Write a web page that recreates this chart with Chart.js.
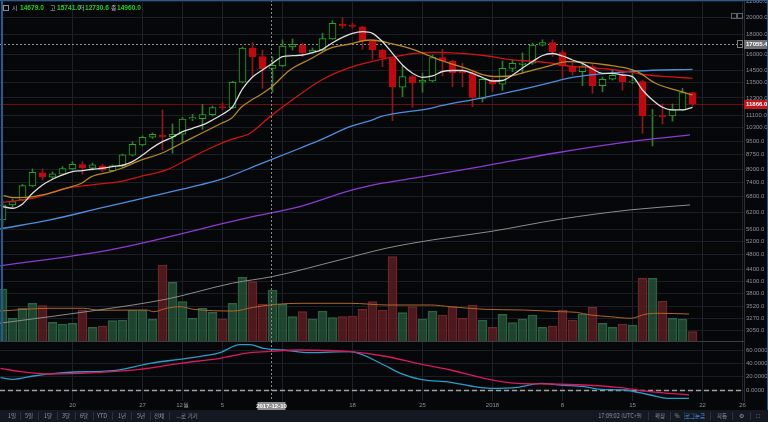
<!DOCTYPE html>
<html lang="ko">
<head>
<meta charset="utf-8">
<title>BTC 일봉</title>
<script src="https://cdn.jsdelivr.net/npm/chart.js@4.4.1/dist/chart.umd.min.js"></script>
<style>
  html, body { margin: 0; padding: 0; }
  body { width: 768px; height: 422px; background: #060709; position: relative; overflow: hidden;
         font-family: "Liberation Sans", "Noto Sans CJK KR", sans-serif; }
  canvas { position: absolute; left: 0; }
  #price { top: 0; }
  #osc { top: 341px; }
  .frame { position: absolute; background: #1f5d92; }
  #legend span { position: absolute; top: 3px; line-height: 10px; font-size: 6.6px; white-space: nowrap; }
  #legend .k { color: #b4b8c0; font-family: "Noto Sans CJK KR"; font-size: 6px; }
  #legend .v { color: #1bd41b; font-weight: bold; }
  #legend .ico { left: 3px; top: 5px; width: 4px; height: 4px; border: 1px solid #8a8f99; }
  .tiny { position: absolute; width: 4px; height: 4px; border: 1px solid #5d626c; }
  #bar { position: absolute; left: 0; top: 410px; width: 768px; height: 12px; background: #141821; }
  #bar span { position: absolute; top: 0; line-height: 12px; font-size: 5.5px; color: #8e97a8;
              transform: translateX(-50%); white-space: nowrap; font-family: "Noto Sans CJK KR"; }
  #bar span.on { color: #4c9be0; }
  #bar i { position: absolute; top: 2px; width: 1px; height: 8px; background: #2b313d; }
</style>
</head>
<body>
<canvas id="price" width="768" height="341"></canvas>
<canvas id="osc" width="768" height="69"></canvas>

<div class="frame" style="left:0;top:0;width:768px;height:1px"></div>
<div class="frame" style="left:1px;top:0;width:2px;height:341px"></div>
<div class="frame" style="left:767px;top:0;width:1px;height:410px"></div>
<div class="tiny" style="left:731px;top:13px"></div>
<div class="tiny" style="left:737px;top:13px"></div>

<div id="legend">
  <span class="ico"></span>
  <span class="k" style="left:12px">시</span><span class="v" id="vO" style="left:20px"></span>
  <span class="k" style="left:50px">고</span><span class="v" id="vH" style="left:57px"></span>
  <span class="k" style="left:79px">저</span><span class="v" id="vL" style="left:85px"></span>
  <span class="k" style="left:111px">종</span><span class="v" id="vC" style="left:117px"></span>
</div>

<div id="bar">
  <span style="left:12px">1일</span><i style="left:20px"></i>
  <span style="left:29px">5일</span><i style="left:38px"></i>
  <span style="left:48px">1달</span><i style="left:57px"></i>
  <span style="left:66px">3달</span><i style="left:75px"></i>
  <span style="left:84px">6달</span><i style="left:93px"></i>
  <span style="left:102px">YTD</span><i style="left:112px"></i>
  <span style="left:122px">1년</span><i style="left:131px"></i>
  <span style="left:141px">5년</span><i style="left:150px"></i>
  <span style="left:159px">전체</span><i style="left:169px"></i>
  <span style="left:187px">...로 가기</span>
  <span style="left:620px">17:09:02 (UTC+9)</span><i style="left:648px"></i>
  <span style="left:660px">확장</span><i style="left:670px"></i>
  <span style="left:677px">%</span><i style="left:684px"></i>
  <span class="on" style="left:695px">로그눈금</span><i style="left:710px"></i>
  <span style="left:722px">자동</span><i style="left:732px"></i>
  <span style="left:741px">⚙</span><i style="left:750px"></i>
  <span style="left:758px">⛶</span>
</div>

<script>
// daily candles, 2017-11-13 .. 2018-01-21 (index 0..69)
const OPEN = [5917, 6473, 6671, 7255, 7843, 7644, 7780, 8034, 8245, 8068,
  8190, 7950, 8180, 8720, 9283, 9718, 9852, 9751, 9895, 10845,
  10866, 11131, 11670, 11586, 13516, 16605, 15780, 14679, 14904, 16705,
  16900, 16175, 16408, 17526, 19178, 19020, 18860, 17318, 16408, 15666,
  13118, 13977, 13516, 13622, 15666, 15359, 14405, 14318, 12267, 13700,
  13356, 14700, 15050, 15149, 16900, 17142, 16144, 14845, 14405, 14845,
  13244, 13762, 14160, 13516, 13565, 11042, 11062, 11042, 11448, 12699]
const HIGH = [6671, 6711, 7320, 8034, 8034, 7893, 8150, 8386, 8392, 8329,
  8264, 8229, 8790, 9462, 9794, 9971, 11448, 10525, 10943, 11150,
  11845, 11720, 11959, 13600, 16705, 17142, 16408, 15741, 17440, 17526,
  17070, 16605, 18136, 19560, 19920, 19300, 18900, 17420, 16500, 15700,
  14933, 14100, 14290, 15920, 16475, 15450, 15149, 14554, 13870, 13870,
  15359, 15450, 16123, 17100, 17440, 17440, 16408, 15170, 15050, 15050,
  13953, 14554, 14360, 14554, 13700, 11494, 11866, 11866, 13039, 12740]
const LOW = [5741, 6396, 6630, 7212, 7522, 7567, 7750, 7986, 7780, 7986,
  7902, 7937, 8131, 8686, 9223, 9648, 9005, 8828, 9390, 10737,
  10195, 11040, 11448, 11540, 13460, 13977, 13039, 12730.6, 14845, 16408,
  15780, 16080, 16310, 17500, 18690, 18690, 16475, 15517, 14845, 10735,
  12397, 11634, 12730, 13540, 14040, 13163, 13163, 11675, 12005, 12770,
  12880, 14400, 14290, 15050, 16805, 15780, 13845, 14100, 13240, 12654,
  12770, 13700, 12880, 13430, 9953, 9223, 10525, 10700, 11410, 11720]
const CLOSE = [6473, 6602, 7269, 7877, 7671, 7797, 8049, 8264, 8097, 8229,
  7970, 8180, 8738, 9318, 9718, 9895, 9751, 9895, 10845, 10930,
  11131, 11606, 11600, 13516, 16605, 15759, 14640, 14960, 16805, 16977,
  16144, 16408, 17558, 19258, 18960, 18910, 17318, 16408, 15666, 13163,
  13977, 13484, 13700, 15666, 15359, 14318, 14318, 12342, 13762, 13356,
  14700, 15149, 15168, 16900, 17142, 16210, 14904, 14405, 14904, 13244,
  13762, 14100, 13565, 13622, 11042, 11075, 10996, 11448, 12699, 11866]
const VOLUME = [52000, 22700, 32700, 37700, 35300, 18700, 17000, 17700, 31000, 13700,
  15000, 20300, 21000, 31000, 31000, 21700, 76000, 58700, 39300, 22700,
  32700, 28700, 22000, 37700, 63700, 59300, 37000, 51000, 36700, 24300,
  29300, 22000, 30000, 23300, 24300, 25000, 31700, 39300, 31000, 84300,
  28300, 34300, 22000, 30000, 26000, 34300, 22700, 36000, 21000, 13700,
  26700, 18300, 22000, 26000, 13700, 15000, 31000, 21000, 27000, 33700,
  17700, 13700, 17000, 16000, 62700, 62700, 40000, 22700, 22000, 9300]

// moving averages: MA5 per candle, the rest as [index, value]
const MA5 = [6409, 6346, 6513, 6944, 7299, 7553, 7750, 7906, 7953, 8020,
  8068, 8147, 8214, 8395, 8738, 9130, 9465, 9718, 10051, 10256,
  10461, 10781, 11156, 11655, 12985, 13953, 14552, 15148, 15763, 15856,
  15922, 16144, 16476, 17142, 17706, 18136, 18313, 18136, 17247, 16085,
  14994, 14266, 13928, 14037, 14420, 14508, 14508, 14250, 13911, 13622,
  13663, 14121, 14727, 15312, 15875, 16067, 15826, 15452, 15148, 14640,
  14266, 14266, 14121, 13980, 12907, 12155, 11634, 11448, 11448, 11634]
const MA10 = [[0.1, 6846], [1.1, 6764], [3.1, 6805], [4.75, 6944], [6.4, 7156], [7.9, 7374],
  [8.9, 7672], [10.9, 7906], [11.9, 8068], [13.9, 8480], [15.9, 8828], [17.9, 9374],
  [19.9, 9953], [21.9, 10569], [22.9, 10890], [23.9, 11655], [24.75, 12082], [25.75, 12525],
  [26.75, 13039], [28.75, 14552], [30.75, 15517], [32.75, 16575], [34.75, 17009], [36.75, 17422],
  [37.75, 17318], [38.75, 17080], [40.75, 16575], [42.75, 15826], [43.75, 15452], [44.75, 15148],
  [46.75, 14570], [48.1, 14121], [49.1, 13995], [50.75, 14037], [52.5, 14406], [54.5, 14876],
  [56.5, 15296], [58.5, 15203], [60.5, 14994], [62.5, 14700], [63.5, 14406], [65.3, 13435],
  [67.3, 12907], [69, 12525]]
const MA20 = [[-0.2, 6564], [3.1, 6739], [6.4, 7156], [9.75, 7343], [11.75, 7446], [13.75, 7672],
  [16.4, 7986], [18.4, 8480], [20.75, 9096], [22.75, 9562], [24.75, 9953], [26.75, 10998],
  [29.2, 12278], [31.9, 13705], [34.5, 14700], [36.9, 15296], [39.2, 15763], [41.2, 16085],
  [43.2, 16182], [45.9, 16085], [48.5, 15826], [50.5, 15517], [52.5, 15359], [54.5, 15203],
  [56.5, 14904], [58.5, 14754], [60.5, 14640], [62.5, 14406], [64.5, 14121], [66.5, 13980],
  [69, 13844]]
const MA60 = [[-0.25, 5605], [4.75, 5917], [9.75, 6346], [14.75, 6805], [19.75, 7299], [21.9, 7553],
  [25.8, 8279], [29.75, 9096], [31.8, 9562], [34.75, 10357], [37, 10781], [37.8, 10998],
  [42.8, 11564], [43.75, 11724], [47.75, 12278], [51.75, 12907], [55.6, 13647], [56.5, 13844],
  [60.5, 14266], [63.5, 14465], [69, 14613]]
const MA120 = [[-0.25, 4490], [10.75, 4942], [25, 6035], [29.75, 6409], [34.75, 7054], [38, 7374],
  [41.75, 7644], [48.75, 8229], [55.75, 8881], [62.75, 9465], [68.75, 9852]]
const MA200 = [[-0.25, 3183], [9.75, 3449], [16.4, 3677], [23, 4047], [27, 4211], [33.75, 4655],
  [38.4, 4993], [43, 5248], [48.75, 5516], [55.75, 5941], [62.75, 6282], [68.75, 6473]]
const VOL_MA = [[-0.25, 30000], [4.75, 32700], [8.1, 32700], [9.75, 30700], [14.4, 31000], [15.1, 29300],
  [16.4, 32700], [17.75, 34300], [19.1, 31700], [23.1, 30000], [25.1, 33700], [27.4, 36700],
  [29.75, 37700], [34.75, 37700], [38.5, 36000], [42.8, 36000], [44.8, 34300], [48.15, 31700],
  [52.1, 31000], [55.8, 29300], [57.4, 28700], [58.8, 26000], [60.8, 24300], [62.8, 22700],
  [64.4, 27000], [65.8, 27700], [68.65, 27000]]

// lower oscillator pane
const OSC_SLOW = [[-0.2, 32.5], [1.8, 27.5], [4.75, 24], [9.75, 26.5], [13.75, 31], [17.75, 40],
  [21.75, 47.5], [24.75, 56], [26.4, 57.5], [29.75, 60], [34.75, 57.5], [38.15, 51], [41.5, 40],
  [44.8, 30], [48.15, 17.5], [51.5, 10], [54.8, 9], [58.15, 7.5], [61.5, 4], [64.8, -2.5], [68.65, -7.5]]
const OSC_FAST = [[-0.2, 18.5], [1.1, 16], [3.1, 21], [6.4, 26.5], [11.1, 29], [14.75, 40], [18.4, 47.5],
  [21.75, 56], [23.75, 68], [24.75, 68], [26.1, 62.5], [28.1, 60], [30.75, 56], [34.75, 57.5],
  [38.15, 37.5], [39.8, 25], [41.8, 16], [44.8, 11.5], [46.8, 6], [48.8, 2.5], [51.5, 4], [53.8, 10],
  [55.8, 7.5], [58.15, 5], [59.8, 1], [62.15, 0], [64.8, -7.5], [66.5, -12.5], [68.65, -12.5]]

// axes
const PRICE_TICKS = [22000, 20000, 18000, 16000, 14500, 13500, 12300, 11100, 10300, 9500, 8750, 8000,
  7400, 6800, 6200, 5600, 5200, 4800, 4400, 4100, 3800, 3520, 3270, 3050]
const OSC_TICKS = [0, 20, 40, 60]
const X_TICKS = [7, 14, 18, 22, 28, 35, 42, 49, 56, 63, 70, 74]
const X_TICK_TEXT = ['20', '27', '12월', '5', '11', '18', '25', '2018', '8', '15', '22', '26']

const LAST_PRICE = 11866.0
const REF_PRICE = 17055.4
const CROSS_INDEX = 27
const CROSS_DATE = '2017-12-10'

const X_MIN = -0.25, X_MAX = 74.15
const PRICE_MIN = 2860, PRICE_MAX = 22150
const VOL_AXIS_MAX = 341000
const OSC_MIN = -16.5, OSC_MAX = 73.5

const BG = '#060709'
const GRID = '#1b1e26'
const TICK_FONT = { family: 'Liberation Sans', size: 6 }
const TICK_COLOR = '#8c9099'

document.getElementById('vO').textContent = OPEN[CROSS_INDEX].toFixed(1)
document.getElementById('vH').textContent = HIGH[CROSS_INDEX].toFixed(1)
document.getElementById('vL').textContent = LOW[CROSS_INDEX].toFixed(1)
document.getElementById('vC').textContent = CLOSE[CROSS_INDEX].toFixed(1)

const isUp = CLOSE.map((c, i) => c >= OPEN[i])
const pts = arr => arr.map(([x, y]) => ({ x, y }))

function maLine(label, data, color, order, extra) {
    return Object.assign({
        type: 'line', label, data, borderColor: color, borderWidth: 1.3,
        pointRadius: 0, tension: 0.3, cubicInterpolationMode: 'monotone', order
    }, extra || {})
}

function xAxis(showLabels) {
    return {
        type: 'linear', min: X_MIN, max: X_MAX, offset: false,
        afterBuildTicks: s => { s.ticks = X_TICKS.map(v => ({ value: v })) },
        ticks: {
            display: showLabels, color: TICK_COLOR, font: TICK_FONT, padding: 1,
            maxRotation: 0, autoSkip: false,
            callback: v => X_TICK_TEXT[X_TICKS.indexOf(v)]
        },
        grid: { color: '#1e2129', drawTicks: false, offset: false },
        border: { display: false },
        afterFit: s => { s.height = showLabels ? 9 : 0; s.paddingLeft = 0; s.paddingRight = 0 }
    }
}

function rightAxis(extra) {
    return Object.assign({
        position: 'right',
        ticks: { color: TICK_COLOR, font: TICK_FONT, padding: 2, autoSkip: false },
        grid: { color: GRID, drawTicks: false },
        border: { color: '#2b2f38' },
        afterFit: s => { s.width = 24; s.paddingTop = 0; s.paddingBottom = 0 }
    }, extra)
}

function labelBox(ctx, x, y, w, text, bg, fg) {
    ctx.fillStyle = bg
    ctx.fillRect(x, Math.round(y) - 4, w, 9)
    ctx.fillStyle = fg
    ctx.font = 'bold 6px "Liberation Sans"'
    ctx.textBaseline = 'middle'
    ctx.textAlign = 'left'
    ctx.fillText(text, x + 2, Math.round(y) + 0.5)
}

const priceOverlay = {
    id: 'priceOverlay',
    beforeDatasetsDraw(chart) {
        const { ctx, chartArea: a, scales: { y } } = chart
        ctx.save()
        let py = Math.round(y.getPixelForValue(LAST_PRICE)) + 0.5
        ctx.strokeStyle = '#700c10'
        ctx.lineWidth = 1
        ctx.beginPath(); ctx.moveTo(a.left, py); ctx.lineTo(a.right, py); ctx.stroke()
        py = Math.round(y.getPixelForValue(REF_PRICE)) + 0.5
        ctx.strokeStyle = '#8f8f8f'
        ctx.setLineDash([2, 2])
        ctx.beginPath(); ctx.moveTo(a.left, py); ctx.lineTo(a.right, py); ctx.stroke()
        ctx.restore()
    },
    afterDatasetsDraw(chart) {
        const { ctx, chartArea: a, scales: { x } } = chart
        const px = Math.round(x.getPixelForValue(CROSS_INDEX)) - 0.5
        ctx.save()
        ctx.strokeStyle = '#8a8a8a'
        ctx.setLineDash([2, 2])
        ctx.beginPath(); ctx.moveTo(px, a.top); ctx.lineTo(px, a.bottom); ctx.stroke()
        ctx.restore()
    },
    afterDraw(chart) {
        const { ctx, chartArea: a, scales: { y } } = chart
        ctx.save()
        const ry = y.getPixelForValue(REF_PRICE)
        ctx.strokeStyle = '#7d7d7d'
        ctx.strokeRect(a.right - 6.5, Math.round(ry) - 3.5, 5, 7)
        labelBox(ctx, a.right, ry, 24, REF_PRICE.toFixed(1), '#6e7074', '#ffffff')
        labelBox(ctx, a.right, y.getPixelForValue(LAST_PRICE), 24, LAST_PRICE.toFixed(1), '#c3141a', '#ffffff')
        ctx.restore()
    }
}

const oscOverlay = {
    id: 'oscOverlay',
    beforeDatasetsDraw(chart) {
        const { ctx, chartArea: a, scales: { y } } = chart
        ctx.save()
        ctx.strokeStyle = '#3a3e47'
        ctx.beginPath(); ctx.moveTo(0, 0.5); ctx.lineTo(a.right, 0.5); ctx.stroke()
        const zy = Math.round(y.getPixelForValue(0)) + 0.5
        ctx.strokeStyle = '#a0a0a0'
        ctx.lineWidth = 1.5
        ctx.setLineDash([5, 3])
        ctx.beginPath(); ctx.moveTo(a.left, zy); ctx.lineTo(a.right, zy); ctx.stroke()
        ctx.restore()
    },
    afterDraw(chart) {
        const { ctx, chartArea: a, scales: { x } } = chart
        const px = Math.round(x.getPixelForValue(CROSS_INDEX)) - 0.5
        ctx.save()
        ctx.strokeStyle = '#8a8a8a'
        ctx.setLineDash([2, 2])
        ctx.beginPath(); ctx.moveTo(px, 0); ctx.lineTo(px, a.bottom); ctx.stroke()
        ctx.setLineDash([])
        ctx.fillStyle = '#8f8f8f'
        ctx.fillRect(px - 14, a.bottom + 1, 28, 8)
        ctx.fillStyle = '#ffffff'
        ctx.font = 'bold 6px "Liberation Sans"'
        ctx.textAlign = 'center'
        ctx.textBaseline = 'middle'
        ctx.fillText(CROSS_DATE, px, a.bottom + 5.5)
        ctx.restore()
    }
}

const common = {
    responsive: false, animation: false, devicePixelRatio: 1,
    layout: { padding: 0, autoPadding: false },
    plugins: { legend: { display: false }, tooltip: { enabled: false } }
}

new Chart(document.getElementById('price'), {
    data: {
        datasets: [
            maLine('MA5', MA5.map((v, i) => ({ x: i, y: v })), '#dedede', 1),
            maLine('MA10', pts(MA10), '#b8871d', 2),
            maLine('MA20', pts(MA20), '#cf1212', 3),
            maLine('MA60', pts(MA60), '#4b8fe0', 4),
            maLine('MA120', pts(MA120), '#8b3bd2', 5),
            maLine('MA200', pts(MA200), '#8c8c8c', 6, { borderWidth: 1 }),
            {
                type: 'bar', label: 'body', order: 7,
                data: OPEN.map((o, i) => ({ x: i, y: [o, CLOSE[i]] })),
                backgroundColor: isUp.map(u => u ? BG : '#c0090f'),
                borderColor: isUp.map(u => u ? '#24a824' : '#c0090f'),
                borderWidth: 1, borderSkipped: false, barThickness: 7, grouped: false
            },
            {
                type: 'bar', label: 'wick', order: 8,
                data: LOW.map((l, i) => ({ x: i, y: [l, HIGH[i]] })),
                backgroundColor: isUp.map(u => u ? '#2e7d2e' : '#8d1a1a'),
                barThickness: 1, grouped: false
            },
            maLine('VOL MA', pts(VOL_MA), '#b0662a', 9, { yAxisID: 'yv', borderWidth: 1 }),
            {
                type: 'bar', label: 'volume', order: 10, yAxisID: 'yv',
                data: VOLUME.map((v, i) => ({ x: i, y: v })),
                backgroundColor: isUp.map(u => u ? 'rgba(36,84,56,0.8)' : 'rgba(90,28,32,0.85)'),
                borderColor: isUp.map(u => u ? '#2f6347' : '#6e2a30'),
                borderWidth: 1, barThickness: 9, grouped: false
            }
        ]
    },
    options: Object.assign({}, common, {
        scales: {
            x: xAxis(false),
            y: rightAxis({
                type: 'logarithmic', min: PRICE_MIN, max: PRICE_MAX,
                afterBuildTicks: s => { s.ticks = PRICE_TICKS.map(v => ({ value: v })) },
                ticks: { color: TICK_COLOR, font: TICK_FONT, padding: 2, autoSkip: false, callback: v => Number(v).toFixed(1) }
            }),
            yv: { type: 'linear', display: false, min: 0, max: VOL_AXIS_MAX }
        }
    }),
    plugins: [priceOverlay]
})

new Chart(document.getElementById('osc'), {
    data: {
        datasets: [
            maLine('slow', pts(OSC_SLOW), '#d81a5e', 1),
            maLine('fast', pts(OSC_FAST), '#2a9dc8', 2)
        ]
    },
    options: Object.assign({}, common, {
        scales: {
            x: xAxis(true),
            y: rightAxis({
                type: 'linear', min: OSC_MIN, max: OSC_MAX,
                afterBuildTicks: s => { s.ticks = OSC_TICKS.map(v => ({ value: v })) },
                ticks: { color: TICK_COLOR, font: TICK_FONT, padding: 2, autoSkip: false, callback: v => Number(v).toFixed(4) }
            })
        }
    }),
    plugins: [oscOverlay]
})
</script>
</body>
</html>
